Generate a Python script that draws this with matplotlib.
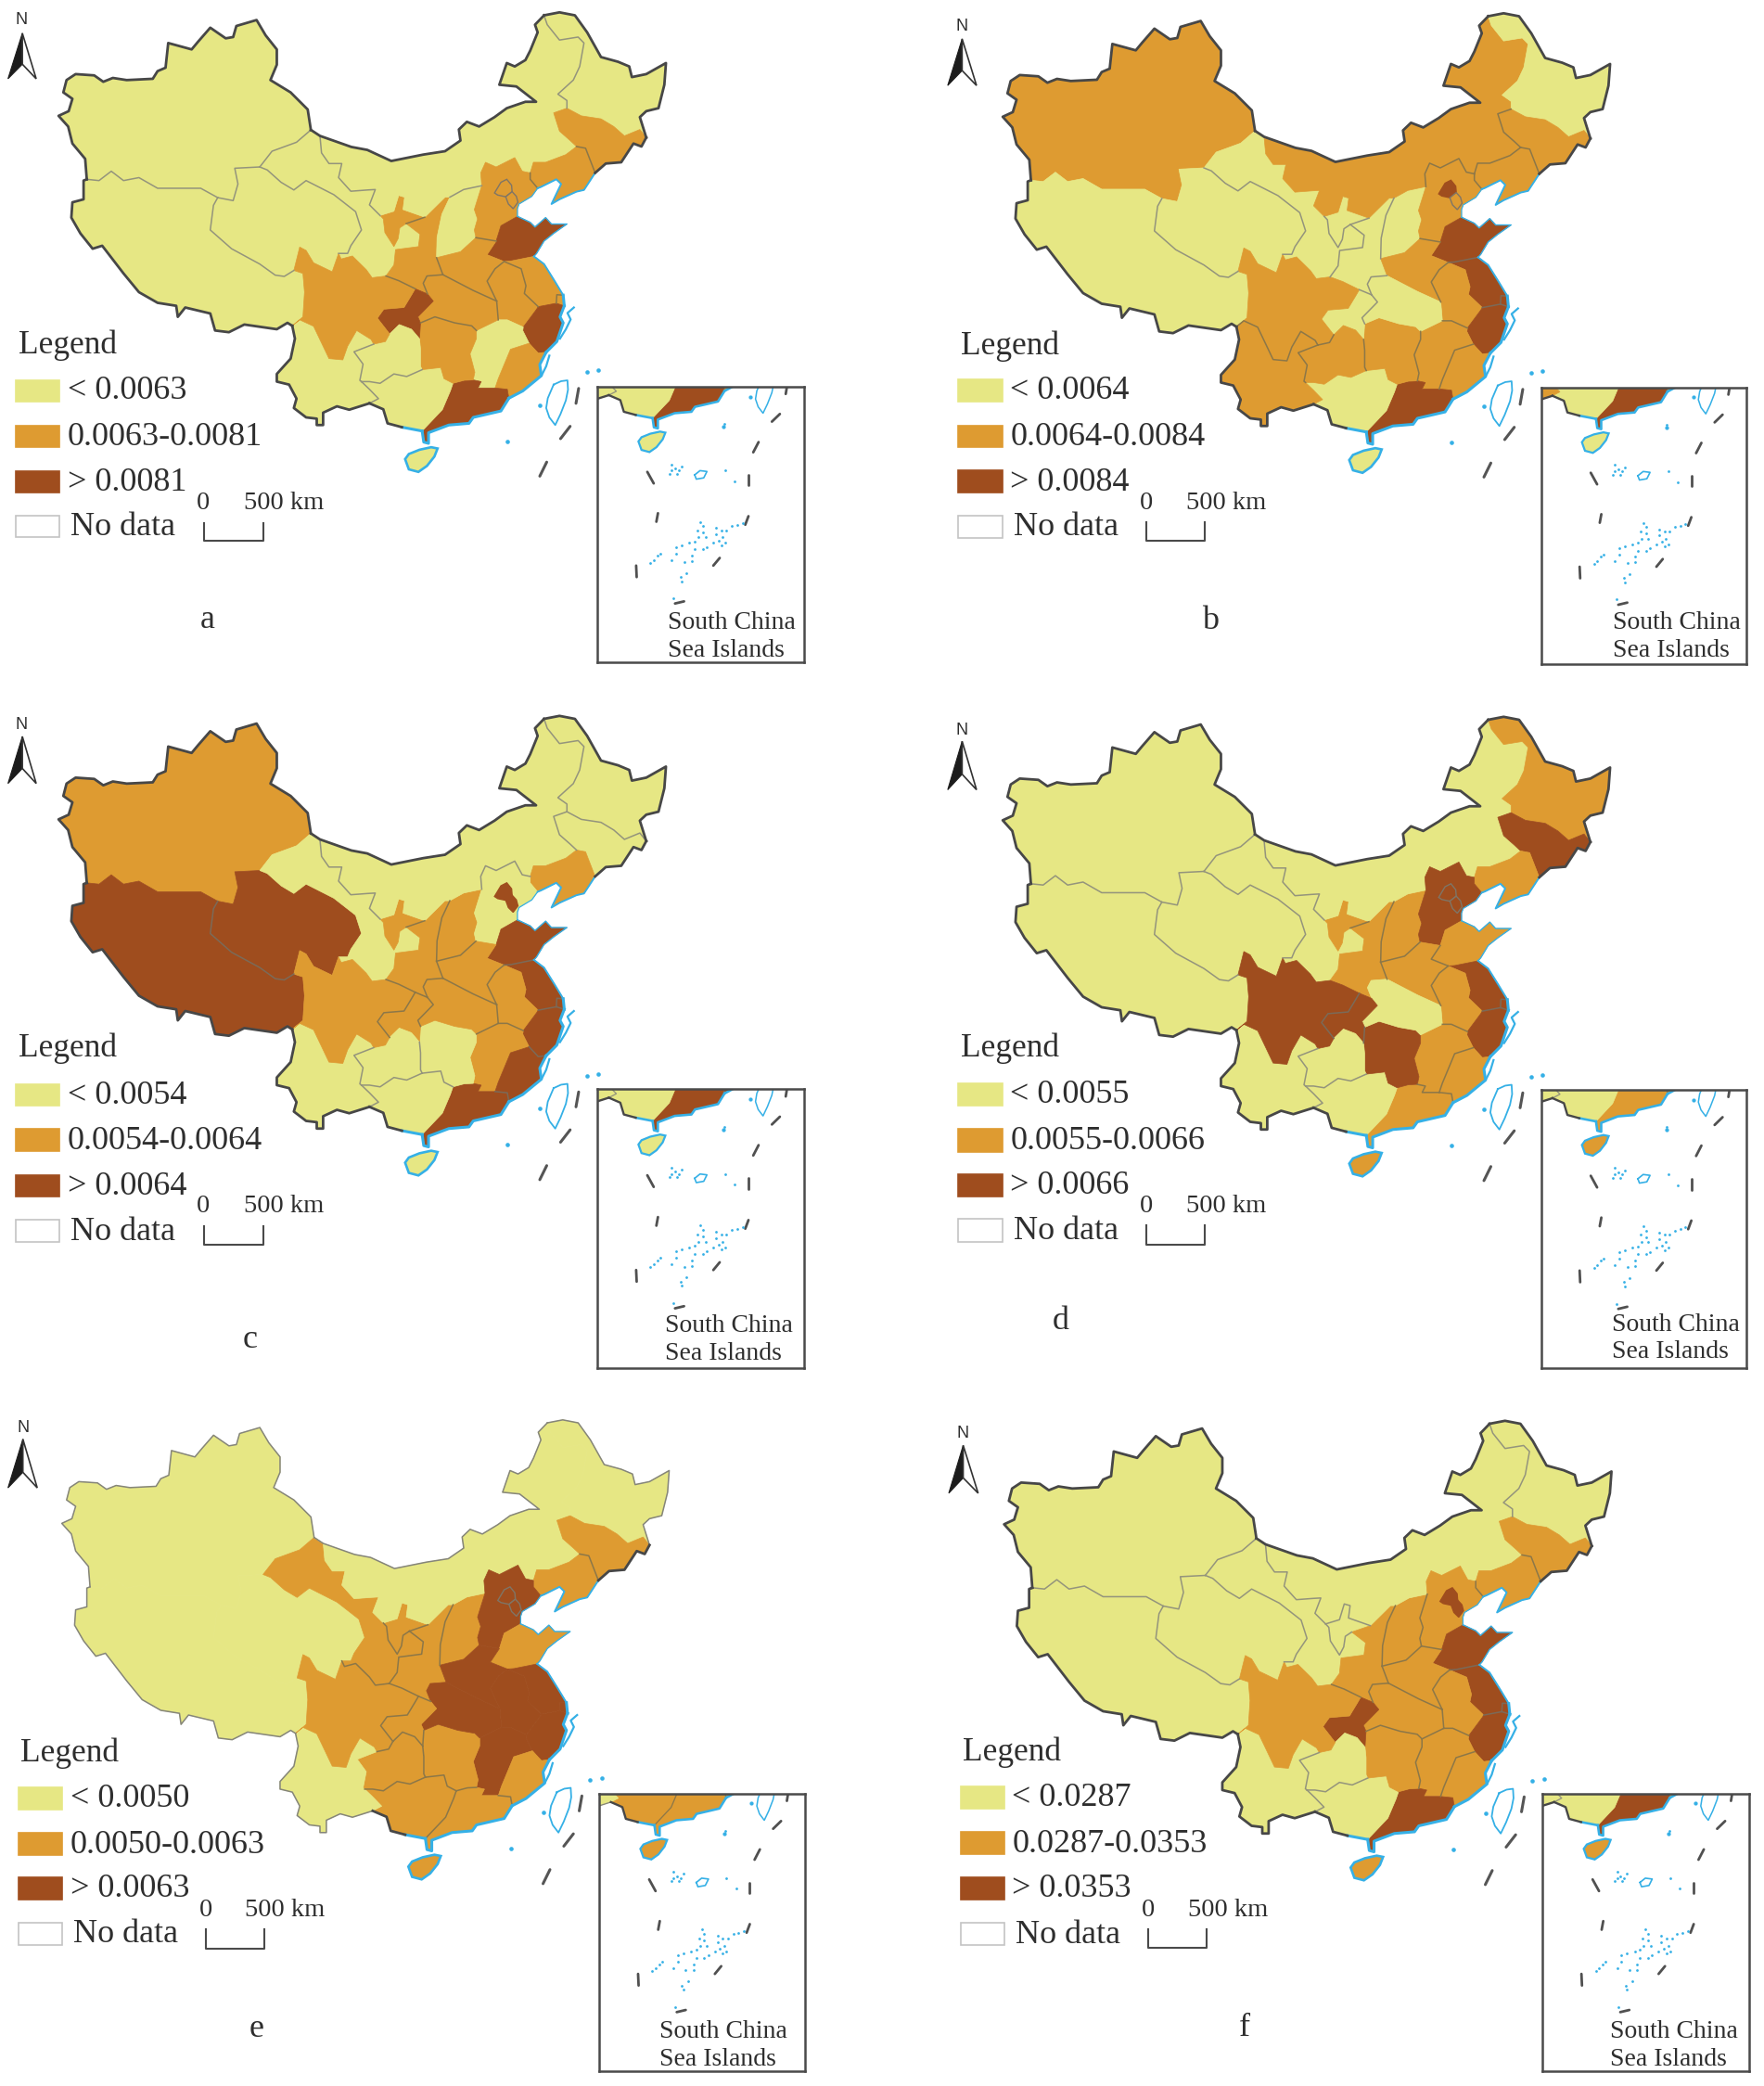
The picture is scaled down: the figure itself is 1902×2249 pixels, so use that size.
import numpy as np
import matplotlib
matplotlib.use("Agg")
import matplotlib.pyplot as plt
from matplotlib.patches import Polygon, Rectangle

W, H = 1902, 2249
plt.rcParams['font.family'] = ['Liberation Serif', 'DejaVu Serif']
YEL, ORA, DRK = '#E6E784', '#DE9B31', '#9F4D1E'
CLS = [YEL, ORA, DRK]
CYAN = '#35B0E6'
TXT = '#2e2e2e'
BORD = '#474747'

# ---------- province border segments ----------
SEG = dict(
XJ_out=[(163,421),(160,373),(136,337),(128,297),(110,272),(129,261),(136,232),(119,217),(125,188),(142,174),(177,177),(194,192),(212,183),(238,188),(287,185),(296,167),(311,159),(316,101),(360,116),(372,98),(395,65),(424,90),(438,87),(444,61),(482,47),(499,83),(520,116),(520,152),(508,188),(546,217),(578,257),(584,305)],
XJ_GS=[(584,305),(557,334),(511,355),(488,392)],
XJ_QH=[(488,392),(441,395),(447,432),(438,471),(409,464)],
XJ_XZ=[(409,464),(377,442),(343,442),(296,442),(261,417),(232,424),(209,402),(186,424),(163,421)],
XZ_out=[(163,421),(157,424),(157,468),(136,475),(134,511),(151,548),(174,584),(192,577),(232,642),(261,686),(296,711),(331,718),(334,744),(348,722),(395,736),(404,776),(430,780),(459,762),(520,773),(540,758),(549,765)],
XZ_SC=[(549,765),(569,744),(572,686),(569,642),(552,635)],
XZ_QH=[(409,464),(401,482),(395,540),(435,584),(488,620),(517,646),(534,649),(552,635)],
SC_QH=[(552,635),(555,620),(563,580),(575,588),(589,617),(624,638),(636,595)],
QH_GS=[(488,392),(502,399),(528,428),(552,446),(575,424),(627,457),(668,497),(679,540),(659,577),(653,595),(636,595)],
SC_GS=[(636,595),(641,608),(653,604),(662,601),(688,633),(699,652),(725,648)],
GS_SN=[(725,648),(740,622),(743,586),(786,579),(789,550),(763,525)],
NX_SN=[(763,525),(798,510)],
GS_NX=[(763,525),(751,535),(748,560),(740,579),(723,546),(720,514),(714,506)],
NX_NM=[(714,506),(740,496),(749,459),(760,463),(757,492),(798,510)],
GS_NM=[(584,305),(601,319),(604,359),(618,384),(642,384),(636,417),(659,449),(691,446),(705,445),(694,481),(714,506)],
SN_NM=[(798,510),(836,463),(845,463)],
SN_SX=[(845,463),(830,503),(821,557),(820,605)],
SX_NM=[(845,463),(871,445),(905,436)],
SX_HE=[(905,436),(891,492),(897,514),(891,540),(894,558)],
SX_HA=[(894,558),(865,591),(820,605)],
SN_HA=[(820,605),(826,625),(832,645)],
SN_HB=[(832,645),(802,648),(795,665),(803,690)],
CQ_SN=[(780,678),(803,690)],
SN_SC=[(780,678),(749,659),(725,648)],
HB_HA=[(832,645),(889,682),(933,707)],
HA_AH=[(933,707),(915,660),(930,631),(947,614)],
HA_SD=[(947,614),(915,598),(932,566)],
HA_HE=[(932,566),(894,558)],
HE_SD=[(932,566),(941,530),(972,508)],
SD_coast=[(972,508),(996,522),(1005,533),(1025,511),(1036,526),(1065,526),(1040,548),(1022,566),(1008,595),(1003,602)],
SD_JS=[(1003,602),(959,613),(947,614)],
JS_AH=[(947,614),(979,631),(988,671),(985,689),(1011,720)],
JS_coast=[(1003,602),(1022,620),(1042,660),(1058,693)],
JS_ZJ=[(1011,720),(1045,712)],
JS_SH=[(1045,712),(1046,692),(1058,693)],
SH_coast=[(1058,693),(1060,718)],
SH_ZJ=[(1060,718),(1045,712)],
ZJ_coast=[(1060,718),(1052,744),(1058,758),(1046,802),(1026,827)],
ZJ_FJ=[(1026,827),(1011,829),(994,806)],
ZJ_JX=[(994,806),(982,776),(983,768)],
ZJ_AH=[(983,768),(1008,726),(1011,720)],
AH_JX=[(983,768),(953,751),(936,751)],
AH_HB=[(936,751),(933,707)],
HB_JX=[(936,751),(895,776)],
HN_JX=[(895,776),(895,795),(883,831),(892,874),(889,892)],
JX_GD=[(889,892),(904,896),(898,911),(930,911)],
JX_FJ=[(930,911),(936,889),(959,820),(994,806)],
FJ_GD=[(930,911),(953,914),(956,935)],
FJ_coast=[(956,935),(982,918),(1017,882),(1014,856),(1026,827)],
GD_coast=[(956,935),(941,965),(889,980),(881,994),(843,998),(805,1016),(805,1041),(796,1038),(793,1012)],
GD_GX=[(793,1012),(831,962),(846,918),(851,900)],
HN_GD=[(851,900),(872,893),(889,892)],
HN_GX=[(851,900),(834,889),(828,863),(793,868)],
GX_GZ=[(793,868),(764,884),(740,878),(714,900),(694,896),(679,896)],
GX_YN=[(679,896),(694,914),(711,936),(694,947)],
GX_coast=[(694,947),(720,961),(728,994),(755,1003),(793,1012)],
YN_out=[(549,765),(554,795),(546,842),(520,878),(520,896),(543,903),(557,936),(552,958),(575,980),(595,983),(595,998),(607,998),(607,969),(633,954),(656,962),(694,947)],
YN_SC=[(549,765),(563,751),(589,766),(618,842),(644,845),(653,813),(670,776),(697,797),(702,808)],
YN_GZ=[(702,808),(665,826),(682,855),(676,893),(679,896)],
SC_GZ=[(702,808),(724,802),(732,784)],
CQ_GZ=[(732,784),(750,762),(773,773),(788,795)],
CQ_SC=[(732,784),(709,747),(721,726),(759,722),(773,693),(780,678)],
CQ_HB=[(803,690),(814,707),(785,744),(790,758)],
CQ_HN=[(790,758),(788,795)],
HB_HN=[(790,758),(817,744),(854,758),(886,765),(895,776)],
HN_GZ=[(788,795),(790,820),(790,860),(793,868)],
NM_HE=[(905,436),(903,406),(912,381),(932,392),(967,370),(981,402),(996,406)],
HE_LN=[(996,406),(996,421),(1010,442)],
HE_coast=[(1010,442),(999,461),(975,479),(972,490),(972,508)],
LN_coast=[(1118,406),(1097,446),(1083,450),(1051,468),(1036,479),(1054,432),(1045,421),(1016,439),(1010,442)],
LN_JL=[(1083,344),(1100,348),(1118,406)],
NM_LN=[(996,406),(1002,381),(1025,381),(1063,363),(1083,344)],
NM_JL=[(1083,344),(1071,330),(1051,308),(1040,265),(1065,254)],
NM_HL=[(1065,254),(1065,236),(1048,221),(1077,188),(1089,156),(1097,101),(1086,87),(1051,94),(1028,58),(1022,36)],
HL_out=[(1022,36),(1051,29),(1080,36),(1103,76),(1129,134),(1161,145),(1182,156),(1187,181),(1214,174),(1251,148),(1248,199),(1237,254),(1214,261),(1202,275),(1214,323)],
HL_JL=[(1065,254),(1092,272),(1129,279),(1153,297),(1173,319),(1202,304),(1214,323)],
JL_out=[(1214,323),(1205,344),(1190,337),(1167,381),(1138,384),(1118,406)],
NM_out=[(1022,36),(1005,58),(1010,76),(996,119),(987,141),(967,156),(952,148),(938,199),(970,203),(1007,239),(987,239),(952,254),(929,275),(900,297),(877,286),(862,304),(865,330),(836,355),(795,363),(735,378),(690,352),(660,345),(601,319),(584,305)],
)

ROUTES = dict(
XJ='XJ_out XJ_GS XJ_QH XJ_XZ',
XZ='XZ_out XZ_SC -XZ_QH XJ_XZ',
QH='-XJ_QH QH_GS -SC_QH -XZ_QH',
GS='GS_NM -GS_NX -GS_SN -SC_GS -QH_GS -XJ_GS',
NX='NX_NM -NX_SN GS_NX',
SN='SN_NM SN_SX SN_HA SN_HB -CQ_SN SN_SC GS_SN NX_SN',
SX='SX_NM SX_HE SX_HA -SN_SX',
NM='NM_out GS_NM NX_NM SN_NM SX_NM NM_HE NM_LN NM_JL NM_HL',
HL='HL_out -HL_JL NM_HL',
JL='HL_JL JL_out -LN_JL NM_JL',
LN='NM_LN LN_JL LN_coast -HE_LN',
HE='-NM_HE SX_HE -HA_HE HE_SD -HE_coast -HE_LN',
SD='SD_coast SD_JS HA_SD HE_SD',
HA='-SX_HA -HA_HE -HA_SD -HA_AH -HB_HA -SN_HA',
JS='-SD_JS JS_coast -JS_SH -JS_ZJ -JS_AH',
SH='JS_SH SH_coast SH_ZJ',
AH='HA_AH JS_AH -ZJ_AH AH_JX AH_HB',
ZJ='JS_ZJ -SH_ZJ ZJ_coast ZJ_FJ ZJ_JX ZJ_AH',
JX='-AH_JX -ZJ_JX -JX_FJ -JX_GD -HN_JX -HB_JX',
FJ='JX_FJ -ZJ_FJ -FJ_coast -FJ_GD',
GD='FJ_GD GD_coast GD_GX HN_GD JX_GD',
GX='-GD_GX -GX_coast -GX_YN -GX_GZ -HN_GX',
HN='HB_HN HN_JX -HN_GD HN_GX -HN_GZ -CQ_HN',
HB='HB_HA -AH_HB HB_JX -HB_HN -CQ_HB -SN_HB',
CQ='CQ_SN CQ_HB CQ_HN -CQ_GZ CQ_SC',
GZ='CQ_GZ HN_GZ GX_GZ -YN_GZ SC_GZ',
YN='YN_out -GX_YN -YN_GZ -YN_SC',
SC='XZ_SC SC_QH SC_GS -SN_SC -CQ_SC -SC_GZ -YN_SC',
)
ENCLAVES = dict(
BJ=[(929,453),(941,428),(952,421),(961,435),(962,450),(950,462),(935,458)],
TJ=[(950,462),(962,450),(970,461),(973,475),(964,490),(955,479)],
)
HAINAN = [(761,1078),(768,1066),(788,1056),(810,1050),(822,1053),(816,1072),(802,1094),(786,1108),(768,1102)]
TAIWAN = [(1040,903),(1054,895),(1066,893),(1067,915),(1063,940),(1053,972),(1043,998),(1032,980),(1026,958),(1029,935),(1040,903)]
ZJ_ISLES = [(1078,722),(1066,735),(1072,750),(1063,773),(1052,795)]
FJ_ISLES = [(1032,835),(1026,860),(1018,880)]
MAIN_DASHES = [[(1087,912),(1082,947)],[(1071,1001),(1053,1030)],[(1027,1085),(1014,1118)]]
SEA_DOTS = [(953,1036),(1014,951),(1102,874),(1124,869)]

# South China Sea inset items
SCS_DASHES = [[(1216,1108),(1228,1135)],[(1236,1205),(1233,1225)],[(1195,1328),(1196,1355)],[(1268,1417),(1285,1412)],
              [(1340,1328),(1352,1310)],[(1400,1232),(1406,1212)],[(1406,1115),(1406,1140)],[(1415,1062),(1425,1038)],
              [(1450,990),(1465,972)],[(1478,910),(1476,925)]]
SCS_DOTS = [(1262,1090),(1268,1100),(1262,1105),(1275,1105),(1280,1095),(1272,1112),(1258,1112),(1362,1105),(1380,1130),(1360,995),
            (1315,1225),(1320,1235),(1310,1245),(1320,1250),(1312,1262),(1325,1262),(1305,1272),(1345,1240),(1355,1245),(1365,1245),
            (1345,1255),(1358,1262),(1350,1270),(1362,1275),(1375,1235),(1385,1232),(1395,1228),(1270,1285),(1280,1280),(1295,1275),
            (1305,1290),(1320,1290),(1328,1285),(1300,1305),(1270,1300),(1262,1315),(1235,1305),(1228,1315),(1240,1300),(1222,1322),
            (1285,1320),(1300,1318),(1355,1280),(1340,1275),(1278,1355),(1280,1365),(1290,1345),(1265,1405)]
SCS_RING = [(1305,1115),(1315,1105),(1328,1107),(1322,1122),(1308,1125),(1305,1115)]

# ---------- class of each province per panel (0 low, 1 mid, 2 high) ----------
PROV = ['XJ','XZ','QH','GS','NX','SN','SX','NM','HL','JL','LN','HE','BJ','TJ','SD','HA','JS','SH','AH','ZJ','JX','FJ','GD','GX','HI','HN','HB','CQ','SC','GZ','YN']
CLASS_A = [0,0,0,0,1,1,0,0,0,1,1,1,1,1,2,1,1,1,1,2,0,1,2,0,0,1,1,2,1,0,0]
CLASS_B = [1,0,0,0,0,0,0,1,0,1,1,1,2,1,2,1,2,2,1,2,1,1,2,0,0,1,0,0,1,1,1]
CLASS_C = [1,2,2,0,1,1,1,0,0,0,1,0,2,2,2,1,2,2,1,2,1,2,2,0,0,0,1,1,1,0,0]
CLASS_D = [0,0,0,0,1,1,1,0,1,2,1,2,2,2,1,1,2,2,1,2,1,1,1,0,1,2,0,2,2,0,0]
CLASS_E = [0,0,0,1,1,1,1,0,0,1,1,2,2,2,1,2,2,2,2,2,2,1,1,1,1,1,2,1,1,1,0]
CLASS_F = [0,0,0,0,0,1,1,0,0,1,1,1,2,2,2,1,2,2,1,2,1,1,2,0,1,1,1,2,1,0,0]
LABELS_A = ['< 0.0063','0.0063-0.0081','> 0.0081']
LABELS_B = ['< 0.0064','0.0064-0.0084','> 0.0084']
LABELS_C = ['< 0.0054','0.0054-0.0064','> 0.0064']
LABELS_D = ['< 0.0055','0.0055-0.0066','> 0.0066']
LABELS_E = ['< 0.0050','0.0050-0.0063','> 0.0063']
LABELS_F = ['< 0.0287','0.0287-0.0353','> 0.0353']
LETTERS = ['a','b','c','d','e','f']

# ---------- per panel layout ----------
LAYOUT = [
 dict(crop=(0,0,900,720), off=(0,0), cl=CLASS_A, lab=LABELS_A, sw=30, leg=811, ys=(917,1025,1131,1236), sy=1181, bar=(383,495,1228,1270), zero=382, km=458, let=(390,1455), N=(40,47,42,78,185,15,68), ins=(1122,908,1510,1555), il=(1255,1463,1528)),
 dict(crop=(1000,0,902,730), off=(1018,1), cl=CLASS_B, lab=LABELS_B, sw=58, leg=801, ys=(904,1010,1115,1220), sy=1166, bar=(410,520,1210,1252), zero=410, km=485, let=(530,1437), N=(65,62,65,90,198,38,92), ins=(1150,897,1535,1537), il=(1285,1443,1506)),
 dict(crop=(0,750,900,750), off=(0,758.5), cl=CLASS_C, lab=LABELS_C, sw=30, leg=796, ys=(900,1002,1105,1207), sy=1151, bar=(383,495,1195,1238), zero=382, km=458, let=(470,1453), N=(40,65,42,92,198,15,68), ins=(1122,887,1510,1515), il=(1250,1420,1483)),
 dict(crop=(1000,740,902,760), off=(1018,759.5), cl=CLASS_D, lab=LABELS_D, sw=58, leg=806, ys=(907,1010,1110,1210), sy=1156, bar=(410,520,1198,1242), zero=410, km=485, let=(250,1413), N=(65,97,65,122,230,38,92), ins=(1150,897,1535,1517), il=(1283,1420,1481)),
 dict(crop=(0,1500,900,749), off=(3.5,1517.5), cl=CLASS_E, lab=LABELS_E, sw=35, leg=816, ys=(919,1022,1122,1224), sy=1171, bar=(386,497,1215,1258), zero=386, km=460, let=(482,1440), N=(43,82,43,108,218,15,70), ins=(1126,908,1512,1535), il=(1238,1445,1508)),
 dict(crop=(1000,1500,902,749), off=(1019.5,1518.5), cl=CLASS_F, lab=LABELS_F, sw=62, leg=814, ys=(917,1020,1122,1225), sy=1171, bar=(413,523,1215,1257), zero=413, km=488, let=(595,1438), N=(67,95,67,122,230,40,95), ins=(1153,908,1540,1535), il=(1280,1445,1508)),
]

ZW = 1568.0   # the traced coordinates span this many units across and down each crop
REF_W, REF_H = 900.0, 720.0

def chain(route):
    out = []
    for name in route.split():
        rev = name.startswith('-')
        p = SEG[name.lstrip('-')]
        p = p[::-1] if rev else p
        out.extend(p if not out else p[1:])
    return np.array(out, float)

POLY = {k: chain(v) for k, v in ROUTES.items()}
USERS = {}
for k, v in ROUTES.items():
    for n in v.split():
        USERS.setdefault(n.lstrip('-'), []).append(k)

OUTER = ['XJ_out','XZ_out','YN_out','HL_out','JL_out','NM_out']
COAST = ['LN_coast','HE_coast','SD_coast','JS_coast','SH_coast','ZJ_coast','FJ_coast','GD_coast']

def add_axes(fig, x, y, w, h):
    ax = fig.add_axes([x/W, 1-(y+h)/H, w/W, h/H])
    ax.patch.set_alpha(0)
    ax.set_xticks([]); ax.set_yticks([])
    for s in ax.spines.values():
        s.set_visible(False)
    return ax

def draw_map(ax, cl, thin, T, k=1.0, dashes=True):
    cls = dict(zip(PROV, cl))
    for name, poly in POLY.items():
        c = CLS[cls[name]]
        ax.add_patch(Polygon(T(poly), closed=True, fc=c, ec=c, lw=0.5, zorder=2))
    for name, poly in ENCLAVES.items():
        c = CLS[cls[name]]
        same = cls[name] == cls['HE'] and cls[name] != 0
        ax.add_patch(Polygon(T(np.array(poly, float)), closed=True, fc=c, ec='#7f7566' if same else c, lw=1.0*k, zorder=3))
    for s, users in USERS.items():
        if len(users) == 2 and cls[users[0]] == cls[users[1]]:
            cv = cls[users[0]]
            if thin and cv != 1:
                continue
            col = {0:'#94947c', 1:'#8c7748', 2:'#7b6a58'}[cv]
            xy = T(np.array(SEG[s], float))
            ax.plot(xy[:,0], xy[:,1], color=col, lw=1.1*k, zorder=3, solid_joinstyle='round')
    for s in COAST:
        xy = T(np.array(SEG[s], float))
        lw = {'HE_coast':0.9, 'SD_coast':1.0, 'LN_coast':1.4, 'JS_coast':1.4}.get(s, 2.2)
        ax.plot(xy[:,0], xy[:,1], color=CYAN, lw=lw*k, zorder=4)
    g = T(np.array(SEG['GX_coast'], float))
    ax.plot(g[3:,0], g[3:,1], color=CYAN, lw=2.2*k, zorder=4)
    for s in OUTER:
        xy = T(np.array(SEG[s], float))
        dark = (not thin) or s == 'JL_out'
        ax.plot(xy[:,0], xy[:,1], color=BORD if dark else '#85857a', lw=(2.0 if dark else 1.1)*k, zorder=5, solid_joinstyle='round')
    ax.plot(g[:4,0], g[:4,1], color=BORD, lw=2.0*k, zorder=5)
    hc = CLS[cls['HI']]
    ax.add_patch(Polygon(T(np.array(HAINAN, float)), closed=True, fc=hc, ec=CYAN, lw=1.9*k, zorder=4))
    tw = T(np.array(TAIWAN, float))
    ax.plot(tw[:,0], tw[:,1], color=CYAN, lw=1.3*k, zorder=4)
    for isles in (ZJ_ISLES, FJ_ISLES):
        zi = T(np.array(isles, float))
        ax.plot(zi[:,0], zi[:,1], color=CYAN, lw=1.6*k, zorder=4)
    sd = T(np.array(SEA_DOTS, float))
    ax.scatter(sd[:,0], sd[:,1], s=11*k, color=CYAN, lw=0, zorder=4)
    if dashes:
        for d in MAIN_DASHES:
            xy = T(np.array(d, float))
            ax.plot(xy[:,0], xy[:,1], color='#555555', lw=2.2, zorder=4, solid_capstyle='round')

fig = plt.figure(figsize=(W/100, H/100), dpi=100)
fig.patch.set_facecolor('white')

for i, L in enumerate(LAYOUT):
    cx, cy, cw, ch = L['crop']
    thin = LETTERS[i] == 'e'
    # main map
    mx = add_axes(fig, L['off'][0], L['off'][1], REF_W, REF_H)
    mx.set_xlim(0, ZW); mx.set_ylim(ZW, 0)
    draw_map(mx, L['cl'], thin, lambda p: p)

    # legend layer
    ax = add_axes(fig, cx, cy, cw, ch)
    ax.set_xlim(0, ZW); ax.set_ylim(ZW, 0)
    sw = L['sw']
    ax.text(sw+4, L['leg'], 'Legend', fontsize=25.5, color=TXT, va='center', ha='left')
    colors = [YEL, ORA, DRK, 'white']
    texts = L['lab'] + ['No data']
    for j, (yy, c, t) in enumerate(zip(L['ys'], colors, texts)):
        ax.add_patch(Rectangle((sw, yy-25), 82, 50, fc=c, ec='#c4c4c4' if j == 3 else c, lw=1.2))
        ax.text(sw + (103 if j == 3 else 97), yy+2, t, fontsize=26, color=TXT, va='center', ha='left')
    x0, x1, y0, y1 = L['bar']
    ax.plot([x0, x0, x1, x1], [y0, y1, y1, y0], color='#4a4a4a', lw=1.5)
    ax.text(L['zero'], L['sy'], '0', fontsize=20.5, color=TXT, va='center', ha='center')
    ax.text(L['km'], L['sy'], '500 km', fontsize=20.5, color=TXT, va='center', ha='left')
    ax.text(L['let'][0], L['let'][1], LETTERS[i], fontsize=26, color=TXT, va='center', ha='center')
    # north arrow
    nx, ny, ax0, top, bot, lft, rgt = L['N']
    ax.text(nx, ny, 'N', fontsize=13, color=TXT, va='center', ha='center', family='Liberation Sans')
    mid = top + 0.68*(bot-top)
    ax.add_patch(Polygon([(ax0, top), (lft, bot), (ax0, mid)], closed=True, fc='#1c1c1c', ec='#1c1c1c', lw=0.8))
    ax.add_patch(Polygon([(ax0, top), (rgt, bot), (ax0, mid)], closed=True, fc='white', ec='#333333', lw=1.2))

    # South China Sea inset
    l, t, r, b = L['ins']
    sx, sy = cw/ZW, ch/ZW
    ix = add_axes(fig, cx + l*sx, cy + t*sy, (r-l)*sx, (b-t)*sy)
    ix.set_xlim(0, 388); ix.set_ylim(647, 0)
    ix.patch.set_alpha(1); ix.patch.set_facecolor('white')
    ix.set_zorder(5)
    k = 0.83
    draw_map(ix, L['cl'], thin, lambda p: np.column_stack([108 + k*(p[:,0]-798), 97 + k*(p[:,1]-1040)]), k=0.85, dashes=False)
    for d in SCS_DASHES:
        xy = np.array(d, float) - (1122, 908)
        ix.plot(xy[:,0], xy[:,1], color='#505050', lw=2.0, solid_capstyle='round', zorder=6)
    dots = np.array(SCS_DOTS, float) - (1122, 908)
    ix.scatter(dots[:,0], dots[:,1], s=4, color=CYAN, lw=0, zorder=6)
    ring = np.array(SCS_RING, float) - (1122, 908)
    ix.plot(ring[:,0], ring[:,1], color=CYAN, lw=1.2, zorder=6)
    for s in ix.spines.values():
        s.set_visible(True); s.set_color('#4a4a4a'); s.set_linewidth(1.8); s.set_zorder(10)
    ax2 = add_axes(fig, cx, cy, cw, ch)
    ax2.set_zorder(6)
    ax2.set_xlim(0, ZW); ax2.set_ylim(ZW, 0)
    ax2.text(L['il'][0], L['il'][1], 'South China', fontsize=20, color=TXT, va='center', ha='left')
    ax2.text(L['il'][0], L['il'][2], 'Sea Islands', fontsize=20, color=TXT, va='center', ha='left')

fig.savefig('out.png', dpi=100, facecolor='white')
